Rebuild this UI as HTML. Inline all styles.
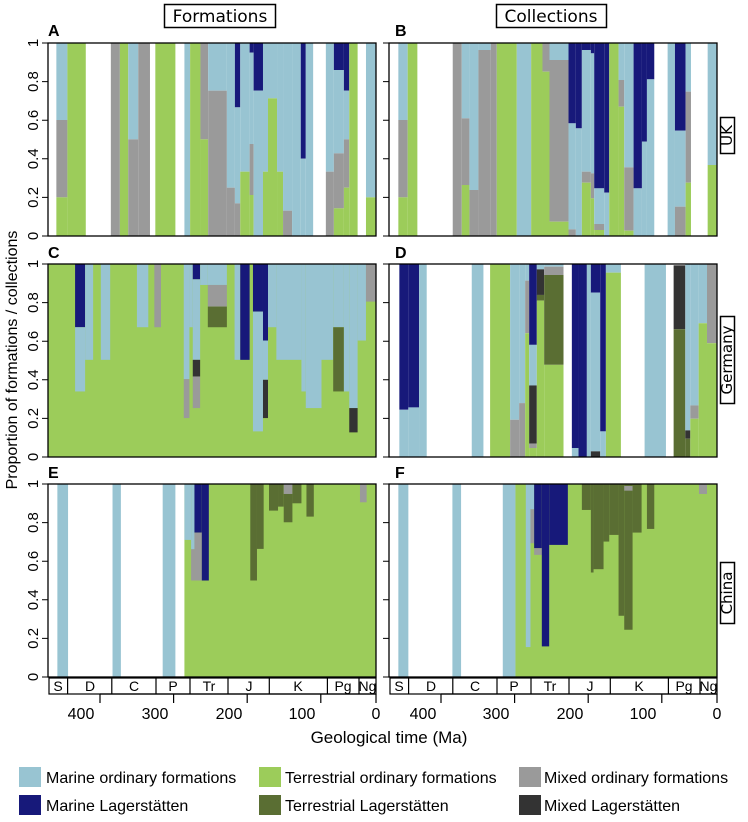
<!DOCTYPE html>
<html><head><meta charset="utf-8"><style>
body{margin:0;background:#fff}
svg{display:block}
text{font-family:"Liberation Sans",sans-serif;fill:#000}
.m{fill:#98c4d2}.t{fill:#9ccc5a}.x{fill:#9a9a9a}.ml{fill:#17197a}.tl{fill:#5a6e33}.xl{fill:#333}
</style></head><body>
<svg width="748" height="822" viewBox="0 0 748 822" xmlns="http://www.w3.org/2000/svg">
<rect x="164.5" y="4.5" width="111" height="23" fill="#fff" stroke="#000" stroke-width="1.5"/>
<text x="220" y="22" font-size="17" text-anchor="middle" style="font-family:'DejaVu Sans',sans-serif">Formations</text>
<rect x="496.5" y="4.5" width="110" height="23" fill="#fff" stroke="#000" stroke-width="1.5"/>
<text x="551" y="22" font-size="17" text-anchor="middle" style="font-family:'DejaVu Sans',sans-serif">Collections</text>
<g font-weight="bold" font-size="16">
<text x="48" y="36">A</text><text x="395" y="36">B</text>
<text x="48" y="258">C</text><text x="395" y="258">D</text>
<text x="48" y="478">E</text><text x="395" y="478">F</text>
</g>

<svg x="48" y="43" width="328" height="193" viewBox="147 129 981 579" preserveAspectRatio="none">
<rect class="m" x="172" width="33" y="129" height="231"/><rect class="x" x="172" width="33" y="360" height="232"/><rect class="t" x="172" width="33" y="592" height="116"/>
<rect class="t" x="205" width="55" y="129" height="579"/>
<rect class="x" x="335" width="27" y="129" height="579"/>
<rect class="t" x="362" width="25" y="129" height="579"/>
<rect class="m" x="387" width="30" y="129" height="289"/><rect class="x" x="387" width="30" y="418" height="290"/>
<rect class="x" x="417" width="35" y="129" height="579"/>
<rect class="t" x="468" width="60" y="129" height="579"/>
<rect class="m" x="555" width="17" y="129" height="579"/>
<rect class="t" x="572" width="31" y="129" height="579"/>
<rect class="x" x="603" width="23" y="129" height="289"/><rect class="t" x="603" width="23" y="418" height="290"/>
<rect class="m" x="626" width="56" y="129" height="143"/><rect class="x" x="626" width="56" y="272" height="436"/>
<rect class="m" x="682" width="24" y="129" height="434"/><rect class="x" x="682" width="24" y="563" height="145"/>
<rect class="ml" x="706" width="16" y="129" height="193"/><rect class="m" x="706" width="16" y="322" height="288"/><rect class="x" x="706" width="16" y="610" height="98"/>
<rect class="m" x="722" width="28" y="129" height="386"/><rect class="t" x="722" width="28" y="515" height="193"/>
<rect class="ml" x="750" width="12" y="129" height="29"/><rect class="m" x="750" width="12" y="158" height="274"/><rect class="x" x="750" width="12" y="432" height="153"/><rect class="t" x="750" width="12" y="585" height="123"/>
<rect class="ml" x="762" width="28" y="129" height="143"/><rect class="m" x="762" width="28" y="272" height="436"/>
<rect class="m" x="790" width="15" y="129" height="386"/><rect class="t" x="790" width="15" y="515" height="193"/>
<rect class="m" x="805" width="27" y="129" height="166"/><rect class="t" x="805" width="27" y="295" height="413"/>
<rect class="m" x="832" width="18" y="129" height="386"/><rect class="t" x="832" width="18" y="515" height="193"/>
<rect class="m" x="850" width="27" y="129" height="503"/><rect class="x" x="850" width="27" y="632" height="76"/>
<rect class="m" x="877" width="26" y="129" height="579"/>
<rect class="ml" x="903" width="15" y="129" height="347"/><rect class="m" x="903" width="15" y="476" height="232"/>
<rect class="m" x="918" width="22" y="129" height="579"/>
<rect class="m" x="978" width="24" y="129" height="386"/><rect class="x" x="978" width="24" y="515" height="193"/>
<rect class="ml" x="1002" width="30" y="129" height="81"/><rect class="m" x="1002" width="30" y="210" height="250"/><rect class="x" x="1002" width="30" y="460" height="165"/><rect class="t" x="1002" width="30" y="625" height="83"/>
<rect class="ml" x="1032" width="16" y="129" height="143"/><rect class="m" x="1032" width="16" y="272" height="146"/><rect class="x" x="1032" width="16" y="418" height="145"/><rect class="t" x="1032" width="16" y="563" height="145"/>
<rect class="t" x="1048" width="25" y="129" height="579"/>
<rect class="m" x="1098" width="30" y="129" height="463"/><rect class="t" x="1098" width="30" y="592" height="116"/>
</svg>

<svg x="389" y="43" width="328" height="193" viewBox="57 129 983 579" preserveAspectRatio="none">
<rect class="m" x="85" width="28" y="129" height="231"/><rect class="x" x="85" width="28" y="360" height="232"/><rect class="t" x="85" width="28" y="592" height="116"/>
<rect class="t" x="113" width="29" y="129" height="579"/>
<rect class="x" x="248" width="27" y="129" height="579"/>
<rect class="m" x="275" width="23" y="129" height="226"/><rect class="x" x="275" width="23" y="355" height="200"/><rect class="t" x="275" width="23" y="555" height="153"/>
<rect class="m" x="298" width="27" y="129" height="441"/><rect class="x" x="298" width="27" y="570" height="138"/>
<rect class="m" x="325" width="37" y="129" height="21"/><rect class="x" x="325" width="37" y="150" height="558"/>
<rect class="x" x="362" width="18" y="129" height="579"/>
<rect class="t" x="380" width="60" y="129" height="579"/>
<rect class="m" x="440" width="43" y="129" height="579"/>
<rect class="t" x="483" width="34" y="129" height="579"/>
<rect class="x" x="517" width="21" y="129" height="86"/><rect class="t" x="517" width="21" y="215" height="493"/>
<rect class="m" x="538" width="57" y="129" height="51"/><rect class="x" x="538" width="57" y="180" height="485"/><rect class="t" x="538" width="57" y="665" height="43"/>
<rect class="ml" x="595" width="22" y="129" height="241"/><rect class="m" x="595" width="22" y="370" height="318"/><rect class="x" x="595" width="22" y="688" height="20"/>
<rect class="ml" x="617" width="18" y="129" height="256"/><rect class="m" x="617" width="18" y="385" height="323"/>
<rect class="ml" x="635" width="27" y="129" height="21"/><rect class="m" x="635" width="27" y="150" height="365"/><rect class="x" x="635" width="27" y="515" height="33"/><rect class="t" x="635" width="27" y="548" height="160"/>
<rect class="ml" x="662" width="10" y="129" height="31"/><rect class="m" x="662" width="10" y="160" height="360"/><rect class="x" x="662" width="10" y="520" height="75"/><rect class="t" x="662" width="10" y="595" height="113"/>
<rect class="ml" x="672" width="30" y="129" height="436"/><rect class="m" x="672" width="30" y="565" height="107"/><rect class="x" x="672" width="30" y="672" height="18"/><rect class="t" x="672" width="30" y="690" height="18"/>
<rect class="ml" x="702" width="15" y="129" height="449"/><rect class="m" x="702" width="15" y="578" height="130"/>
<rect class="t" x="717" width="28" y="129" height="579"/>
<rect class="m" x="745" width="17" y="129" height="111"/><rect class="x" x="745" width="17" y="240" height="80"/><rect class="t" x="745" width="17" y="320" height="388"/>
<rect class="m" x="762" width="28" y="129" height="373"/><rect class="x" x="762" width="28" y="502" height="190"/><rect class="t" x="762" width="28" y="692" height="16"/>
<rect class="ml" x="790" width="25" y="129" height="436"/><rect class="m" x="790" width="25" y="565" height="143"/>
<rect class="ml" x="815" width="15" y="129" height="296"/><rect class="m" x="815" width="15" y="425" height="283"/>
<rect class="ml" x="830" width="22" y="129" height="109"/><rect class="m" x="830" width="22" y="238" height="470"/>
<rect class="m" x="892" width="22" y="129" height="579"/>
<rect class="ml" x="914" width="32" y="129" height="263"/><rect class="m" x="914" width="32" y="392" height="228"/><rect class="x" x="914" width="32" y="620" height="88"/>
<rect class="m" x="946" width="16" y="129" height="146"/><rect class="x" x="946" width="16" y="275" height="273"/><rect class="t" x="946" width="16" y="548" height="160"/>
<rect class="m" x="1012" width="28" y="129" height="366"/><rect class="t" x="1012" width="28" y="495" height="213"/>
</svg>

<svg x="48" y="264" width="328" height="193" viewBox="147 72 981 580" preserveAspectRatio="none">
<rect class="t" x="147" width="981" y="72" height="580"/>
<rect class="ml" x="228" width="30" y="72" height="190"/><rect class="m" x="228" width="30" y="262" height="193"/>
<rect class="m" x="258" width="24" y="72" height="288"/>
<rect class="m" x="305" width="28" y="72" height="288"/>
<rect class="m" x="413" width="34" y="72" height="190"/>
<rect class="x" x="465" width="20" y="72" height="190"/>
<rect class="m" x="553" width="17" y="72" height="346"/><rect class="x" x="553" width="17" y="418" height="117"/>
<rect class="m" x="570" width="10" y="72" height="190"/>
<rect class="ml" x="580" width="22" y="72" height="46"/><rect class="m" x="580" width="22" y="118" height="242"/><rect class="xl" x="580" width="22" y="360" height="50"/><rect class="x" x="580" width="22" y="410" height="95"/>
<rect class="m" x="602" width="23" y="72" height="63"/>
<rect class="m" x="625" width="57" y="72" height="63"/><rect class="x" x="625" width="57" y="135" height="65"/><rect class="tl" x="625" width="57" y="200" height="62"/>
<rect class="m" x="705" width="17" y="72" height="288"/>
<rect class="ml" x="722" width="28" y="72" height="288"/>
<rect class="ml" x="760" width="30" y="72" height="143"/><rect class="m" x="760" width="30" y="215" height="360"/>
<rect class="ml" x="790" width="15" y="72" height="230"/><rect class="m" x="790" width="15" y="302" height="118"/><rect class="xl" x="790" width="15" y="420" height="115"/>
<rect class="m" x="805" width="25" y="72" height="190"/>
<rect class="m" x="830" width="75" y="72" height="288"/>
<rect class="m" x="905" width="13" y="72" height="383"/>
<rect class="m" x="918" width="47" y="72" height="433"/>
<rect class="m" x="965" width="35" y="72" height="288"/>
<rect class="m" x="1000" width="32" y="72" height="190"/><rect class="tl" x="1000" width="32" y="262" height="193"/>
<rect class="m" x="1032" width="16" y="72" height="383"/>
<rect class="m" x="1048" width="25" y="72" height="433"/><rect class="xl" x="1048" width="25" y="505" height="73"/>
<rect class="m" x="1073" width="25" y="72" height="230"/>
<rect class="x" x="1098" width="30" y="72" height="113"/>
</svg>

<svg x="389" y="264" width="328" height="193" viewBox="57 72 983 580" preserveAspectRatio="none">
<rect class="ml" x="88" width="27" y="72" height="438"/><rect class="m" x="88" width="27" y="510" height="142"/>
<rect class="ml" x="115" width="32" y="72" height="431"/><rect class="m" x="115" width="32" y="503" height="149"/>
<rect class="m" x="147" width="23" y="72" height="580"/>
<rect class="m" x="305" width="35" y="72" height="580"/>
<rect class="t" x="360" width="60" y="72" height="580"/>
<rect class="m" x="420" width="27" y="72" height="468"/><rect class="x" x="420" width="27" y="540" height="112"/>
<rect class="m" x="447" width="18" y="72" height="418"/><rect class="x" x="447" width="18" y="490" height="162"/>
<rect class="m" x="465" width="12" y="72" height="50"/><rect class="x" x="465" width="12" y="122" height="158"/><rect class="t" x="465" width="12" y="280" height="372"/>
<rect class="ml" x="477" width="23" y="72" height="243"/><rect class="m" x="477" width="23" y="315" height="122"/><rect class="xl" x="477" width="23" y="437" height="175"/><rect class="x" x="477" width="23" y="612" height="13"/><rect class="t" x="477" width="23" y="625" height="27"/>
<rect class="m" x="500" width="22" y="72" height="16"/><rect class="xl" x="500" width="22" y="88" height="77"/><rect class="tl" x="500" width="22" y="165" height="17"/><rect class="t" x="500" width="22" y="182" height="470"/>
<rect class="m" x="522" width="58" y="72" height="8"/><rect class="x" x="522" width="58" y="80" height="25"/><rect class="tl" x="522" width="58" y="105" height="270"/><rect class="t" x="522" width="58" y="375" height="277"/>
<rect class="ml" x="605" width="20" y="72" height="553"/><rect class="m" x="605" width="20" y="625" height="27"/>
<rect class="ml" x="625" width="25" y="72" height="580"/>
<rect class="m" x="650" width="12" y="72" height="580"/>
<rect class="ml" x="662" width="28" y="72" height="86"/><rect class="m" x="662" width="28" y="158" height="477"/><rect class="xl" x="662" width="28" y="635" height="17"/>
<rect class="ml" x="690" width="17" y="72" height="503"/><rect class="m" x="690" width="17" y="575" height="77"/>
<rect class="m" x="707" width="45" y="72" height="26"/><rect class="t" x="707" width="45" y="98" height="554"/>
<rect class="m" x="823" width="64" y="72" height="580"/>
<rect class="xl" x="910" width="35" y="76" height="192"/><rect class="tl" x="910" width="35" y="268" height="384"/>
<rect class="m" x="945" width="15" y="72" height="500"/><rect class="xl" x="945" width="15" y="572" height="25"/><rect class="tl" x="945" width="15" y="597" height="55"/>
<rect class="m" x="960" width="25" y="72" height="425"/><rect class="x" x="960" width="25" y="497" height="40"/><rect class="t" x="960" width="25" y="537" height="115"/>
<rect class="m" x="985" width="25" y="72" height="178"/><rect class="t" x="985" width="25" y="250" height="402"/>
<rect class="x" x="1010" width="30" y="72" height="238"/><rect class="t" x="1010" width="30" y="310" height="342"/>
</svg>

<svg x="48" y="484" width="328" height="193" viewBox="147 72 981 580" preserveAspectRatio="none">
<rect class="m" x="175" width="32" y="72" height="580"/><rect class="m" x="340" width="25" y="72" height="580"/><rect class="m" x="490" width="38" y="72" height="580"/>
<rect class="t" x="555" width="573" y="72" height="580"/>
<rect class="m" x="555" width="20" y="72" height="168"/>
<rect class="m" x="575" width="10" y="72" height="196"/><rect class="x" x="575" width="10" y="268" height="94"/>
<rect class="ml" x="585" width="22" y="72" height="146"/><rect class="x" x="585" width="22" y="218" height="144"/>
<rect class="ml" x="607" width="21" y="72" height="290"/>
<rect class="tl" x="752" width="20" y="72" height="290"/>
<rect class="tl" x="772" width="20" y="72" height="195"/>
<rect class="tl" x="808" width="27" y="72" height="80"/>
<rect class="tl" x="835" width="17" y="72" height="68"/>
<rect class="x" x="852" width="26" y="72" height="30"/><rect class="tl" x="852" width="26" y="102" height="85"/>
<rect class="tl" x="878" width="27" y="72" height="58"/>
<rect class="tl" x="920" width="22" y="72" height="98"/>
<rect class="x" x="1080" width="20" y="72" height="55"/>
</svg>

<svg x="389" y="484" width="328" height="193" viewBox="57 72 983 580" preserveAspectRatio="none">
<rect class="m" x="85" width="30" y="72" height="580"/><rect class="m" x="247" width="26" y="72" height="580"/><rect class="m" x="398" width="38" y="72" height="580"/>
<rect class="t" x="436" width="604" y="72" height="580"/>
<rect class="m" x="467" width="14" y="72" height="490"/>
<rect class="m" x="481" width="11" y="72" height="76"/><rect class="x" x="481" width="11" y="148" height="102"/>
<rect class="ml" x="492" width="23" y="72" height="193"/><rect class="x" x="492" width="23" y="265" height="20"/>
<rect class="ml" x="515" width="22" y="72" height="488"/>
<rect class="ml" x="537" width="56" y="72" height="183"/>
<rect class="tl" x="635" width="27" y="72" height="78"/>
<rect class="tl" x="662" width="8" y="72" height="266"/>
<rect class="tl" x="670" width="30" y="72" height="256"/>
<rect class="tl" x="700" width="17" y="72" height="173"/>
<rect class="tl" x="717" width="28" y="72" height="153"/>
<rect class="tl" x="745" width="17" y="72" height="396"/>
<rect class="tl" x="762" width="25" y="72" height="438"/><rect class="x" x="762" width="25" y="78" height="14"/>
<rect class="tl" x="787" width="27" y="72" height="146"/>
<rect class="tl" x="830" width="22" y="72" height="135"/>
<rect class="x" x="986" width="24" y="72" height="30"/>
</svg>

<g fill="none" stroke="#000" stroke-width="1.3">
<rect x="48" y="43" width="328" height="193"/><rect x="389" y="43" width="328" height="193"/>
<rect x="48" y="264" width="328" height="193"/><rect x="389" y="264" width="328" height="193"/>
<rect x="48" y="484" width="328" height="193"/><rect x="389" y="484" width="328" height="193"/>
</g>

<g stroke="#000" stroke-width="1">
<path d="M42 43H48M42 81.6H48M42 120.2H48M42 158.8H48M42 197.4H48M42 236H48"/>
<path d="M383 43H389M383 81.6H389M383 120.2H389M383 158.8H389M383 197.4H389M383 236H389"/>
<path d="M42 264H48M42 302.6H48M42 341.2H48M42 379.8H48M42 418.4H48M42 457H48"/>
<path d="M383 264H389M383 302.6H389M383 341.2H389M383 379.8H389M383 418.4H389M383 457H389"/>
<path d="M42 484H48M42 522.6H48M42 561.2H48M42 599.8H48M42 638.4H48M42 677H48"/>
<path d="M383 484H389M383 522.6H389M383 561.2H389M383 599.8H389M383 638.4H389M383 677H389"/>
</g>
<g font-size="15" text-anchor="middle">
<text transform="translate(38,43) rotate(-90)">1</text>
<text transform="translate(38,81.6) rotate(-90)">0.8</text>
<text transform="translate(38,120.2) rotate(-90)">0.6</text>
<text transform="translate(38,158.8) rotate(-90)">0.4</text>
<text transform="translate(38,197.4) rotate(-90)">0.2</text>
<text transform="translate(38,236) rotate(-90)">0</text>
<text transform="translate(38,264) rotate(-90)">1</text>
<text transform="translate(38,302.6) rotate(-90)">0.8</text>
<text transform="translate(38,341.2) rotate(-90)">0.6</text>
<text transform="translate(38,379.8) rotate(-90)">0.4</text>
<text transform="translate(38,418.4) rotate(-90)">0.2</text>
<text transform="translate(38,457) rotate(-90)">0</text>
<text transform="translate(38,484) rotate(-90)">1</text>
<text transform="translate(38,522.6) rotate(-90)">0.8</text>
<text transform="translate(38,561.2) rotate(-90)">0.6</text>
<text transform="translate(38,599.8) rotate(-90)">0.4</text>
<text transform="translate(38,638.4) rotate(-90)">0.2</text>
<text transform="translate(38,677) rotate(-90)">0</text>
</g>
<text transform="translate(17,360) rotate(-90)" font-size="16" text-anchor="middle">Proportion of formations / collections</text>

<rect x="720.5" y="117.5" width="14" height="36" fill="#fff" stroke="#000" stroke-width="1.5"/>
<text transform="translate(732,135.5) rotate(-90)" font-size="15" text-anchor="middle" style="font-family:'DejaVu Sans',sans-serif">UK</text>
<rect x="720.5" y="316.5" width="14" height="87" fill="#fff" stroke="#000" stroke-width="1.5"/>
<text transform="translate(732,360) rotate(-90)" font-size="15" text-anchor="middle" style="font-family:'DejaVu Sans',sans-serif">Germany</text>
<rect x="720.5" y="562.5" width="14" height="61" fill="#fff" stroke="#000" stroke-width="1.5"/>
<text transform="translate(732,593) rotate(-90)" font-size="15" text-anchor="middle" style="font-family:'DejaVu Sans',sans-serif">China</text>

<g fill="none" stroke="#000" stroke-width="1.2">
<rect x="49" y="678" width="327" height="16"/>
<path d="M67.6 678V694M111.8 678V694M156 678V694M190 678V694M228 678V694M269.3 678V694M327.4 678V694M359 678V694"/>
<path d="M173.6 694V703M247.2 694V703M320.8 694V703M376 694V703M100 694V703M100 694H376"/>
<rect x="390" y="678" width="327" height="16"/>
<path d="M408.6 678V694M452.8 678V694M497 678V694M531 678V694M569 678V694M610.3 678V694M668.4 678V694M700 678V694"/>
<path d="M514.6 694V703M588.2 694V703M661.8 694V703M717 694V703M441 694V703M441 694H717"/>
</g>
<g font-size="14" text-anchor="middle">
<text x="58" y="691">S</text><text x="90" y="691">D</text><text x="134" y="691">C</text><text x="173" y="691">P</text><text x="209" y="691">Tr</text><text x="249" y="691">J</text><text x="298" y="691">K</text><text x="343" y="691">Pg</text><text x="367.5" y="691">Ng</text>
<text x="399" y="691">S</text><text x="431" y="691">D</text><text x="475" y="691">C</text><text x="514" y="691">P</text><text x="550" y="691">Tr</text><text x="590" y="691">J</text><text x="639" y="691">K</text><text x="684" y="691">Pg</text><text x="708.5" y="691">Ng</text>
</g>
<g font-size="16" text-anchor="middle">
<text x="81" y="719">400</text><text x="155" y="719">300</text><text x="229" y="719">200</text><text x="302" y="719">100</text><text x="376" y="719">0</text>
<text x="423" y="719">400</text><text x="496" y="719">300</text><text x="570" y="719">200</text><text x="643" y="719">100</text><text x="717" y="719">0</text>
</g>
<text x="389" y="743" font-size="17" text-anchor="middle">Geological time (Ma)</text>

<rect class="m" x="19" y="767" width="22" height="20"/><text x="46" y="783" font-size="16">Marine ordinary formations</text>
<rect class="t" x="259" y="767" width="22" height="20"/><text x="285" y="783" font-size="16">Terrestrial ordinary formations</text>
<rect class="x" x="519" y="767" width="22" height="20"/><text x="544" y="783" font-size="16">Mixed ordinary formations</text>
<rect class="ml" x="19" y="795" width="22" height="20"/><text x="46" y="811" font-size="16">Marine Lagerstätten</text>
<rect class="tl" x="259" y="795" width="22" height="20"/><text x="285" y="811" font-size="16">Terrestrial Lagerstätten</text>
<rect class="xl" x="519" y="795" width="22" height="20"/><text x="544" y="811" font-size="16">Mixed Lagerstätten</text>
</svg>
</body></html>
